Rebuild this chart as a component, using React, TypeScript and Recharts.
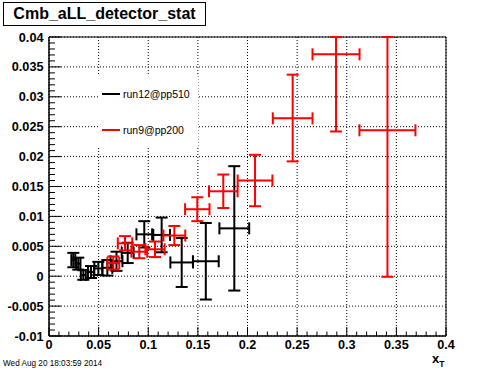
import React from 'react';
import { ScatterChart, Scatter, XAxis, YAxis, CartesianGrid, ErrorBar, Legend, ReferenceArea } from 'recharts';

const xMajorTicks = [0, 0.05, 0.1, 0.15, 0.2, 0.25, 0.3, 0.35, 0.4];
const xTickLabels = ['0', '0.05', '0.1', '0.15', '0.2', '0.25', '0.3', '0.35', '0.4'];
const yMajorTicks = [-0.01, -0.005, 0, 0.005, 0.01, 0.015, 0.02, 0.025, 0.03, 0.035, 0.04];
const yTickLabels = ['-0.01', '-0.005', '0', '0.005', '0.01', '0.015', '0.02', '0.025', '0.03', '0.035', '0.04'];

// run12@pp510 (black)
const blackX = [0.0245, 0.0295, 0.0346, 0.0423, 0.0497, 0.0588, 0.068, 0.0793, 0.096, 0.1135, 0.1337, 0.158, 0.1867];
const blackY = [0.0027, 0.0021, 0.0002, 0.0007, 0.0013, 0.0014, 0.0025, 0.0039, 0.007, 0.0069, 0.0023, 0.0025, 0.008];
const blackEy = [0.0012, 0.001, 0.0008, 0.001, 0.0011, 0.0013, 0.0016, 0.0017, 0.0022, 0.0029, 0.0041, 0.0064, 0.0104];
const blackEx = [0.002, 0.0022, 0.0025, 0.003, 0.004, 0.005, 0.006, 0.006, 0.0079, 0.0084, 0.0114, 0.013, 0.015];

// run9@pp200 (red)
const redX = [0.0648, 0.0766, 0.091, 0.1068, 0.1263, 0.1494, 0.1756, 0.2076, 0.2455, 0.2892, 0.341];
const redY = [0.0022, 0.0055, 0.0041, 0.0045, 0.0068, 0.0112, 0.0142, 0.016, 0.0264, 0.0371, 0.0244];
const redEyLow = [0.0011, 0.0012, 0.0011, 0.0013, 0.0016, 0.002, 0.0028, 0.0043, 0.0072, 0.0129, 0.0245];
const redEyHigh = [0.0011, 0.0012, 0.0011, 0.0013, 0.0016, 0.002, 0.0028, 0.0043, 0.0073, 0.0029, 0.0156];
const redEx = [0.006, 0.0073, 0.008, 0.0097, 0.011, 0.0123, 0.0144, 0.0175, 0.02, 0.0237, 0.0282];

const blackData = blackX.map((x, i) => ({ x, y: blackY[i], ex: blackEx[i], ey: blackEy[i] }));
const redData = redX.map((x, i) => ({ x, y: redY[i], ex: redEx[i], ey: [redEyLow[i], redEyHigh[i]] }));

const subdivide = (majors: number[]) => {
  const out: number[] = [];
  for (let i = 0; i < majors.length - 1; i++) {
    const a = majors[i];
    const b = majors[i + 1];
    for (let k = 0; k < 5; k++) out.push(+(a + ((b - a) * k) / 5).toFixed(6));
  }
  out.push(majors[majors.length - 1]);
  return out;
};
const xAllTicks = subdivide(xMajorTicks);
const yAllTicks = subdivide(yMajorTicks);

const FONT = '"Liberation Sans", Arial, Helvetica, sans-serif';

const majorIndex = (v: number, majors: number[]) => majors.findIndex((m) => Math.abs(m - v) < 1e-9);

const XTick = (props: any) => {
  const { x, y, payload } = props;
  const idx = majorIndex(payload.value, xMajorTicks);
  const len = idx >= 0 ? 9 : 4.5;
  return (
    <g>
      <line x1={x} x2={x} y1={y} y2={y - len} stroke="#000" strokeWidth={1} />
      {idx >= 0 && (
        <text x={x} y={y + 12.5} textAnchor="middle" fontSize={12.7} fontWeight="bold" fontFamily={FONT} fill="#000">
          {xTickLabels[idx]}
        </text>
      )}
    </g>
  );
};

const YTick = (props: any) => {
  const { x, y, payload } = props;
  const idx = majorIndex(payload.value, yMajorTicks);
  const len = idx >= 0 ? 12 : 6;
  return (
    <g>
      <line x1={x} x2={x + len} y1={y} y2={y} stroke="#000" strokeWidth={1} />
      {idx >= 0 && (
        <text x={x - 5.5} y={y + 4.5} textAnchor="end" fontSize={12.7} fontWeight="bold" fontFamily={FONT} fill="#000">
          {yTickLabels[idx]}
        </text>
      )}
    </g>
  );
};

const LegendContent = (props: any) => {
  const { payload } = props;
  return (
    <div style={{ background: '#fff', width: 100, height: 72 }}>
      {(payload || []).map((e: any) => (
        <div key={e.value} style={{ height: 36, display: 'flex', alignItems: 'center' }}>
          <div style={{ width: 18, height: 2, background: e.color, marginLeft: 4, marginRight: 3 }} />
          <span style={{ fontSize: 10.5, color: '#000', fontFamily: FONT, whiteSpace: 'nowrap' }}>{e.value}</span>
        </div>
      ))}
    </div>
  );
};

const emptyShape = () => <g />;

export default function App() {
  return (
    <div style={{ position: 'absolute', left: 0, top: 0, width: 496, height: 372, background: '#fff', fontFamily: FONT }}>
      <ScatterChart width={496} height={372} margin={{ top: 37, right: 50, bottom: 0, left: 0 }}>
        <CartesianGrid
          stroke="#000"
          strokeDasharray="1 2"
          horizontalValues={yMajorTicks}
          verticalValues={xMajorTicks}
        />
        <ReferenceArea x1={0} x2={0.4} y1={-0.01} y2={0.04} fill="none" fillOpacity={0} stroke="#000" strokeWidth={1} ifOverflow="visible" />
        <XAxis
          type="number"
          dataKey="x"
          domain={[0, 0.4]}
          ticks={xAllTicks}
          interval={0}
          tickSize={0}
          tickMargin={0}
          tickLine={false}
          axisLine={{ stroke: '#000' }}
          height={36}
          tick={<XTick />}
          allowDataOverflow
        />
        <YAxis
          type="number"
          dataKey="y"
          domain={[-0.01, 0.04]}
          ticks={yAllTicks}
          interval={0}
          tickSize={0}
          tickMargin={0}
          tickLine={false}
          axisLine={{ stroke: '#000' }}
          width={49}
          tick={<YTick />}
          allowDataOverflow
        />
        <Legend
          layout="vertical"
          align="center"
          verticalAlign="middle"
          wrapperStyle={{ left: 98, top: 76, width: 100, height: 72 }}
          content={<LegendContent />}
        />
        <Scatter name="run12@pp510" data={blackData} fill="#000000" shape={emptyShape} isAnimationActive={false}>
          <ErrorBar dataKey="ey" direction="y" width={6} stroke="#000000" strokeWidth={2} isAnimationActive={false} />
          <ErrorBar dataKey="ex" direction="x" width={6} stroke="#000000" strokeWidth={2} isAnimationActive={false} />
        </Scatter>
        <Scatter name="run9@pp200" data={redData} fill="#ff0000" shape={emptyShape} isAnimationActive={false}>
          <ErrorBar dataKey="ey" direction="y" width={6} stroke="#ff0000" strokeWidth={2} isAnimationActive={false} />
          <ErrorBar dataKey="ex" direction="x" width={6} stroke="#ff0000" strokeWidth={2} isAnimationActive={false} />
        </Scatter>
      </ScatterChart>
      <div
        style={{
          position: 'absolute',
          left: 3,
          top: 2,
          width: 201,
          height: 22,
          border: '1px solid #000',
          background: '#fff',
          fontSize: 16,
          fontWeight: 'bold',
          lineHeight: '22px',
          textAlign: 'center',
          color: '#000',
        }}
      >
        Cmb_aLL_detector_stat
      </div>
      <div style={{ position: 'absolute', left: 3, top: 359, fontSize: 8.2, color: '#000', whiteSpace: 'nowrap', lineHeight: '10px' }}>
        Wed Aug 20 18:03:59 2014
      </div>
      <div style={{ position: 'absolute', left: 432, top: 352, fontSize: 13, fontWeight: 'bold', color: '#000', lineHeight: '14px', whiteSpace: 'nowrap' }}>
        x<sub style={{ fontSize: 8.5, verticalAlign: 'baseline', position: 'relative', top: 4 }}>T</sub>
      </div>
    </div>
  );
}
